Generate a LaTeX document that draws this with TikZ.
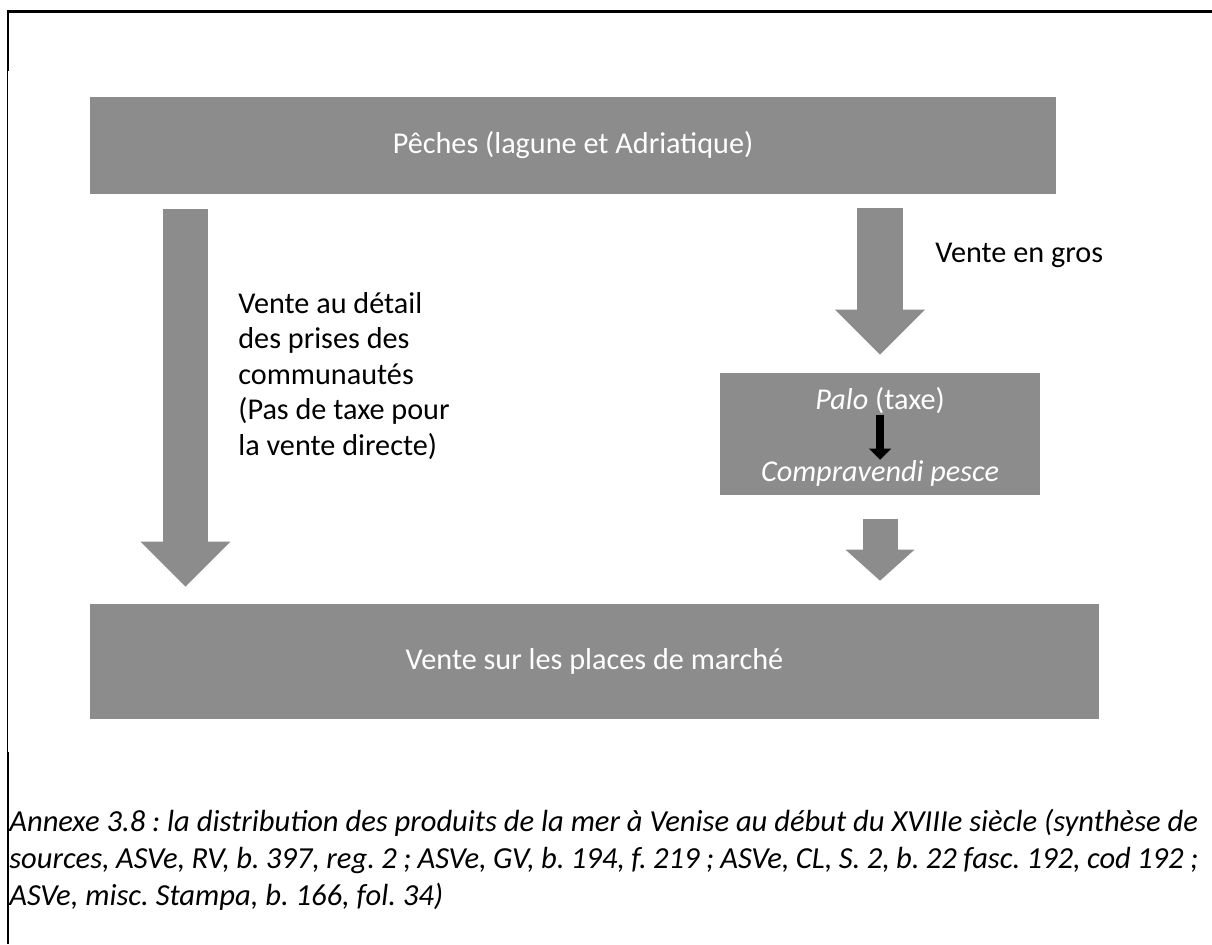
\documentclass[tikz,border=0pt]{standalone}
\usepackage{fontspec}
\setmainfont{Carlito}
\usetikzlibrary{arrows.meta}
\definecolor{boxgrey}{RGB}{140,140,140}
\frenchspacing
\begin{document}
\begin{tikzpicture}[x=0.02cm, y=-0.02cm,
    greybox/.style={fill=boxgrey, text=white, inner sep=0pt,
        font=\fontsize{17.2}{20.2}\selectfont},
    plaintext/.style={inner sep=0pt, font=\fontsize{17.2}{20.2}\selectfont},
    blockarrow/.style n args={3}{draw=boxgrey, line width=#1,
        -{Triangle[width=#2, length=#3, line width=0pt]}}]
\useasboundingbox (0,0) rectangle (1212,944);
% frame
\draw[line width=0.06cm] (8,71) -- (8,11) -- (1212,11);
\draw[line width=0.02cm] (7,71) -- (7,752);
\draw[line width=0.06cm] (8,752) -- (8,944);
% boxes
\node[greybox, minimum width=19.32cm, minimum height=1.94cm]
    (peches) at (573,145.5) {Pêches (lagune et Adriatique)};
\node[greybox, minimum width=20.18cm, minimum height=2.3cm]
    (marche) at (594.5,661.5) {Vente sur les places de marché};
\node[greybox, minimum width=6.4cm, minimum height=2.44cm]
    (palo) at (880,434) {};
\node[plaintext, text=white] (palotxt) at (880,401) {\textit{Palo} (taxe)};
\node[plaintext, text=white] (compra) at (880,473) {\textit{Compravendi pesce}};
% arrows
\draw[blockarrow={0.9cm}{1.8cm}{0.9cm}, shorten <=0.3cm, shorten >=0.34cm]
    (185.5,0 |- peches.south) -- (185.5,0 |- marche.north);
\draw[blockarrow={0.92cm}{1.8cm}{0.9cm}, shorten <=0.28cm, shorten >=0.36cm]
    (880,0 |- peches.south) -- (palo.north);
\draw[blockarrow={0.7cm}{1.38cm}{0.62cm}, shorten <=0.48cm, shorten >=0.46cm]
    (palo.south) -- (palo.south |- marche.north);
\draw[line width=0.16cm, -{Triangle[width=0.44cm, length=0.22cm, line width=0pt]}]
    (palotxt.south) -- (compra.north);
% labels
\node[plaintext, anchor=north west, align=left] (detail) at (238,292)
    {Vente au détail\\des prises des\\communautés\\(Pas de taxe pour\\la vente directe)};
\node[plaintext, anchor=west] (gros) at (935,255) {Vente en gros};
% caption
\node[inner sep=0pt, anchor=north west, text width=23.78cm, align=justify,
    font=\fontsize{17.4}{21.06}\selectfont\itshape] (legende) at (9,809)
    {Annexe 3.8~: la distribution des produits de la mer à Venise au début du XVIIIe siècle (synthèse de\linebreak
    sources, ASVe, RV, b. 397, reg. 2~; ASVe, GV, b. 194, f. 219~; ASVe, CL, S. 2, b. 22 fasc. 192, cod 192~;\linebreak
    ASVe, misc. Stampa, b. 166, fol. 34)};
\end{tikzpicture}
\end{document}
